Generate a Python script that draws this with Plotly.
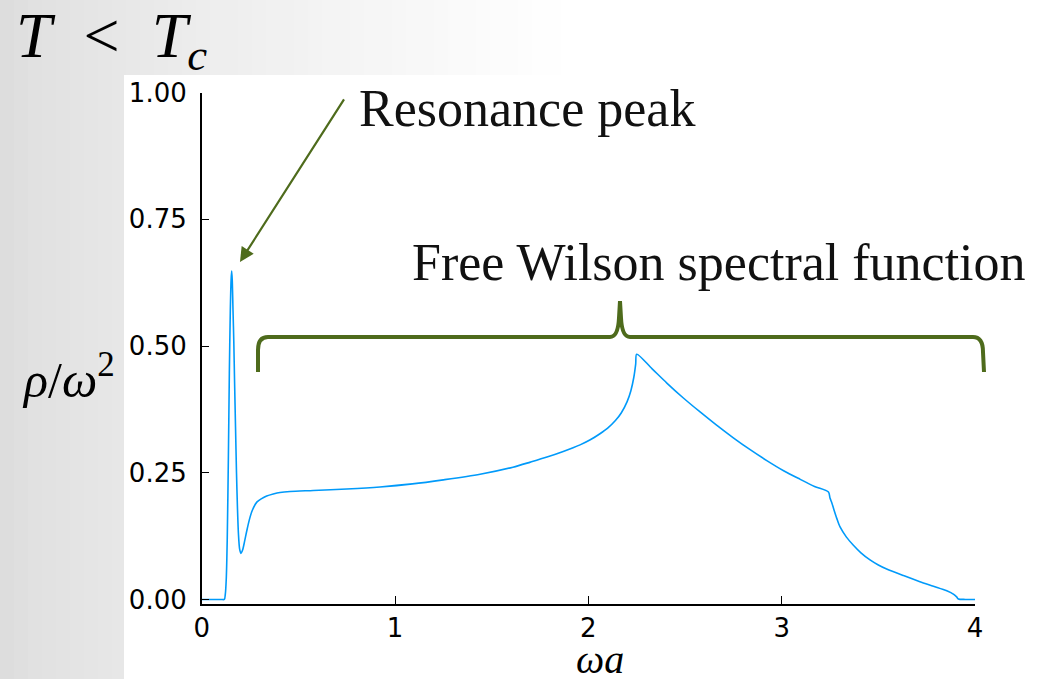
import plotly.graph_objects as go

# Spectral function rho/omega^2 versus omega*a
omega_a = [0.0, 0.05, 0.10, 0.117, 0.122, 0.127, 0.132, 0.138, 0.143, 0.148, 0.152,
           0.155, 0.158, 0.162, 0.166, 0.170, 0.175, 0.180, 0.185, 0.190, 0.196,
           0.203, 0.212, 0.222, 0.233, 0.247, 0.262, 0.285, 0.31, 0.336, 0.37,
           0.405, 0.457, 0.577, 0.75, 0.922, 1.09, 1.25, 1.44, 1.61, 1.70, 1.786, 1.87,
           1.957, 2.01, 2.06, 2.10, 2.14, 2.17, 2.20, 2.22, 2.235, 2.245, 2.25,
           2.33, 2.406, 2.49, 2.578, 2.66, 2.75, 2.835, 2.923, 3.01, 3.096, 3.17,
           3.242, 3.25, 3.26, 3.268, 3.285, 3.302, 3.335, 3.371, 3.41, 3.457, 3.5,
           3.543, 3.63, 3.715, 3.785, 3.854, 3.89, 3.905, 3.914, 3.95, 4.0]
rho_over_w2 = [0.0, 0.0, 0.0, 0.0, 0.01, 0.04, 0.117, 0.28, 0.447, 0.57, 0.63,
               0.648, 0.63, 0.57, 0.51, 0.43, 0.34, 0.25, 0.18, 0.13, 0.10,
               0.091, 0.098, 0.115, 0.135, 0.158, 0.176, 0.192, 0.199, 0.204, 0.208,
               0.211, 0.213, 0.215, 0.218, 0.222, 0.228, 0.236, 0.247, 0.261, 0.271, 0.281,
               0.292, 0.305, 0.315, 0.327, 0.338, 0.353, 0.368, 0.390, 0.412, 0.438, 0.465,
               0.484,
               0.455, 0.427, 0.398, 0.370, 0.345, 0.319, 0.296, 0.274, 0.254, 0.237, 0.223,
               0.212, 0.200, 0.190, 0.180, 0.160, 0.143, 0.123, 0.107, 0.092, 0.078, 0.068,
               0.060, 0.047, 0.035, 0.026, 0.017, 0.010, 0.005, 0.001, 0.0, 0.0]

x_ticks = [0, 1, 2, 3, 4]
y_ticks = [0.0, 0.25, 0.5, 0.75, 1.0]
y_tick_text = ["0.00", "0.25", "0.50", "0.75", "1.00"]

W, H = 1040, 679
GREEN = "#4e6b1c"
BLUE = "#009afa"


def px(x):
    return x / W


def py(y):
    return 1 - y / H


def pt(x, y):
    return f"{px(x):.5f},{py(y):.5f}"


fig = go.Figure()
fig.add_trace(go.Scatter(x=omega_a, y=rho_over_w2, mode="lines",
                         line=dict(color=BLUE, width=1.6, shape="spline", smoothing=0.8),
                         hoverinfo="skip"))

# slide background: grey gradient on the left, white panel behind the axes
shapes = []
n_strips = 40
for i in range(n_strips):
    x0 = i * 560 / n_strips
    x1 = (i + 1) * 560 / n_strips
    t = (i + 0.5) / n_strips
    g = int(220 + (255 - 220) * t ** 0.7)
    shapes.append(dict(type="rect", xref="paper", yref="paper", layer="below",
                       x0=px(x0), x1=px(x1 + 1), y0=0, y1=1,
                       line=dict(width=0), fillcolor=f"rgb({g},{g},{g})"))
shapes.append(dict(type="rect", xref="paper", yref="paper", layer="below",
                   x0=px(124), x1=1, y0=0, y1=py(75),
                   line=dict(width=0), fillcolor="white"))

# curly brace over the free part of the spectrum
brace = ("M " + pt(258, 372) + " L " + pt(258, 350) + " Q " + pt(258, 337) + " " + pt(268, 337)
         + " L " + pt(610, 337) + " Q " + pt(618, 337) + " " + pt(619, 318)
         + " L " + pt(620, 301) + " L " + pt(621, 318)
         + " Q " + pt(622, 337) + " " + pt(630, 337)
         + " L " + pt(973, 337) + " Q " + pt(983, 337) + " " + pt(983, 352)
         + " L " + pt(984, 372))
shapes.append(dict(type="path", xref="paper", yref="paper", path=brace,
                   line=dict(color=GREEN, width=4)))

serif = "Liberation Serif"
annotations = [
    dict(x=px(14), y=py(40), xref="paper", yref="paper", xanchor="left", yanchor="middle",
         text="<i>T</i>&#8194;&lt;&#8194;<i>T</i><sub><i>c</i></sub>",
         showarrow=False, font=dict(family=serif, size=64, color="black")),
    dict(x=px(357), y=py(108), xref="paper", yref="paper", xanchor="left", yanchor="middle",
         text="Resonance peak", showarrow=False,
         font=dict(family=serif, size=52, color="#111111")),
    dict(x=px(410), y=py(262), xref="paper", yref="paper", xanchor="left", yanchor="middle",
         text="Free Wilson spectral function", showarrow=False,
         font=dict(family=serif, size=52, color="#111111")),
    dict(x=px(20), y=py(376), xref="paper", yref="paper", xanchor="left", yanchor="middle",
         text="<i>ρ</i>/<i>ω</i><sup>2</sup>", showarrow=False,
         font=dict(family=serif, size=50, color="black")),
    dict(x=px(600), y=py(659), xref="paper", yref="paper", xanchor="center", yanchor="middle",
         text="<i>ωa</i>", showarrow=False,
         font=dict(family=serif, size=40, color="black")),
    dict(x=0.198, y=0.666, xref="x", yref="y", ax=105, ay=-164, text="",
         showarrow=True, arrowhead=2, arrowsize=1.3, arrowwidth=2.2, arrowcolor=GREEN,
         standoff=0),
]

tick_font = dict(family="DejaVu Sans", size=26, color="black")
fig.update_layout(
    width=W, height=H, margin=dict(l=0, r=0, t=0, b=0, pad=0), autosize=False,
    paper_bgcolor="white", plot_bgcolor="rgba(0,0,0,0)", showlegend=False,
    shapes=shapes, annotations=annotations,
    xaxis=dict(domain=[px(201.7), px(975)], range=[0, 4], tickvals=x_ticks,
               showline=True, linecolor="black", linewidth=1.5, ticks="inside",
               ticklen=8, tickwidth=1.2, tickcolor="black", showgrid=False,
               zeroline=False, tickfont=tick_font, ticklabelstandoff=0, automargin=False),
    yaxis=dict(domain=[py(604), py(92.7)], range=[-0.009, 1.0], tickvals=y_ticks,
               ticktext=y_tick_text, showline=True, linecolor="black", linewidth=1.5,
               ticks="inside", ticklen=8, tickwidth=1.2, tickcolor="black",
               showgrid=False, zeroline=False, tickfont=tick_font, ticklabelstandoff=8,
               automargin=False),
)

fig.write_html("out.html")
